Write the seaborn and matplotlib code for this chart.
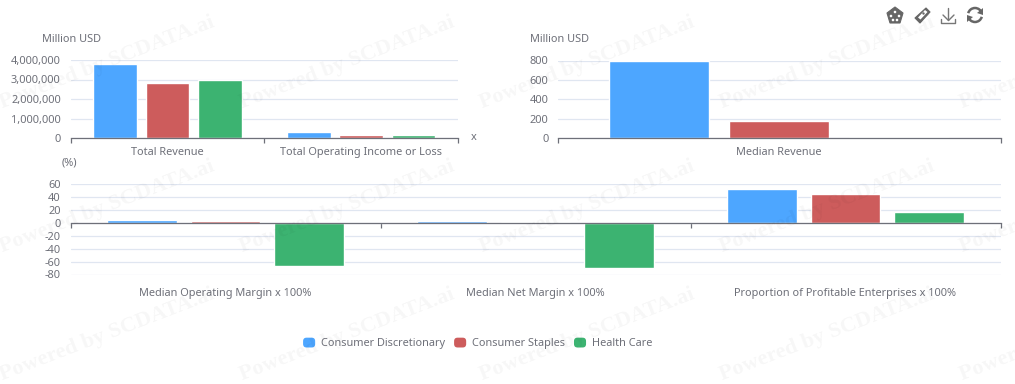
import matplotlib
matplotlib.use("Agg")
import matplotlib.pyplot as plt
from matplotlib.patches import FancyBboxPatch, Patch, Polygon, Circle
from matplotlib.lines import Line2D
from matplotlib.legend_handler import HandlerPatch
import pandas as pd
import seaborn as sns

sectors = ["Consumer Discretionary", "Consumer Staples", "Health Care"]
colors = ["#4DA6FF", "#CD5C5C", "#3CB371"]

total_metrics = ["Total Revenue", "Total Operating Income or Loss"]
total_revenue = [3770000, 2800000, 2970000]
total_op_income = [320000, 170000, 155000]

median_metrics = ["Median Revenue"]
median_revenue = [790, 180, 10]

pct_metrics = ["Median Operating Margin x 100%", "Median Net Margin x 100%",
               "Proportion of Profitable Enterprises x 100%"]
op_margin = [4.5, 2, -67]
net_margin = [2, 0.5, -70]
profitable = [53, 44, 17]

top_left_ticks = [0, 1000000, 2000000, 3000000, 4000000]
top_right_ticks = [0, 200, 400, 600, 800]
bottom_ticks = [-80, -60, -40, -20, 0, 20, 40, 60]

W, H = 1015, 384
TXT = "#6E7079"
GRID = "#E0E6F1"
AX = "#6E7079"

sns.set_theme(style="white")
plt.rcParams["font.family"] = ["Noto Sans", "DejaVu Sans"]
plt.rcParams["font.size"] = 7.8

fig = plt.figure(figsize=(W / 100, H / 100), dpi=100, facecolor="white")


def axes_px(x0, x1, ytop, ybot):
    return fig.add_axes([x0 / W, 1 - ybot / H, (x1 - x0) / W, (ybot - ytop) / H])


def frame(metrics, series):
    rows = []
    for m, vals in zip(metrics, series):
        for s, v in zip(sectors, vals):
            rows.append({"metric": m, "sector": s, "value": v})
    return pd.DataFrame(rows)


def draw(ax, metrics, series, ticks, fmt, pad):
    sns.barplot(data=frame(metrics, series), x="metric", y="value", hue="sector",
                order=metrics, hue_order=sectors, palette=colors, saturation=1,
                width=0.8125, gap=1 / 6, legend=False, ax=ax, zorder=3)
    n = len(metrics)
    ax.set_xlim(-0.5, n - 0.5)
    ax.set_ylim(min(ticks), max(ticks))
    ax.set_xlabel("")
    ax.set_ylabel("")
    ax.set_facecolor("none")
    for s in ("top", "left", "right"):
        ax.spines[s].set_visible(False)
    ax.spines["bottom"].set_position(("data", 0))
    ax.spines["bottom"].set_color(AX)
    ax.spines["bottom"].set_linewidth(0.9)
    ax.spines["bottom"].set_zorder(4)
    ax.set_yticks(ticks)
    ax.set_yticklabels([fmt(t) for t in ticks])
    ax.tick_params(axis="y", length=0, pad=7, labelsize=7.9, labelcolor=TXT)
    ax.set_xticks(range(n))
    ax.set_xticklabels(metrics)
    ax.tick_params(axis="x", which="major", length=0, pad=pad, labelsize=7.9, labelcolor=TXT)
    ax.set_xticks([i - 0.5 for i in range(n + 1)], minor=True)
    ax.tick_params(axis="x", which="minor", length=3.6, width=0.9, color=AX, bottom=True)
    ax.grid(axis="y", color=GRID, linewidth=0.9, zorder=0)
    ax.set_axisbelow(True)


ax1 = axes_px(70.5, 458, 60, 138)
draw(ax1, total_metrics, [total_revenue, total_op_income], top_left_ticks, lambda t: f"{t:,}", 6.5)
ax2 = axes_px(558, 1000.5, 60.5, 138)
draw(ax2, median_metrics, [median_revenue], top_right_ticks, lambda t: f"{t}", 6.5)
ax3 = axes_px(70.5, 1000.5, 184, 274.5)
draw(ax3, pct_metrics, [op_margin, net_margin, profitable], bottom_ticks, lambda t: f"{t}", 47)


def label(x, y, s, ha="left"):
    fig.text(x / W, 1 - y / H, s, ha=ha, va="center", color=TXT, fontsize=7.9)


label(42, 39, "Million USD")
label(530, 39, "Million USD")
label(62, 163, "(%)")
label(471, 138, "x")


class RoundHandler(HandlerPatch):
    def create_artists(self, legend, orig, xd, yd, w, h, fontsize, trans):
        p = FancyBboxPatch((xd + 1.5, -yd + 1.5), w - 3, h - 3,
                           boxstyle="round,pad=1.5,rounding_size=2.5",
                           fc=orig.get_facecolor(), ec="none", transform=trans)
        return [p]


handles = [Patch(facecolor=c, label=s) for c, s in zip(colors, sectors)]
fig.legend(handles=handles, loc="center", bbox_to_anchor=(477.5 / W, 1 - 343.5 / H), ncol=3,
           frameon=False, fontsize=7.9, labelcolor=TXT,
           handler_map={Patch: RoundHandler()},
           handlelength=1.1, handleheight=1.0, handletextpad=0.5, columnspacing=0.85)

# toolbox icons, drawn in pixel space on an overlay
ov = fig.add_axes([0, 0, 1, 1], facecolor="none", zorder=5)
ov.set_xlim(0, W)
ov.set_ylim(H, 0)
ov.axis("off")
ic = "#666666"
ov.add_patch(Polygon([(895, 7), (903, 13), (900, 23), (890, 23), (887, 13)], closed=True, fc=ic, ec=ic, lw=0.8))
for cx, cy in [(895, 12), (891, 16), (899, 16), (893, 20), (897, 20)]:
    ov.add_patch(Circle((cx, cy), 1.3, fc="white", ec="none"))
ov.add_patch(Polygon([(926, 8), (930, 12), (920, 23), (915, 18)], closed=True, fc=ic, ec=ic, lw=0.8, joinstyle="round"))
ov.add_patch(Polygon([(925, 10), (927.5, 12), (920.5, 19.5), (918, 17.5)], closed=True, fc="white", ec="none"))
ov.add_patch(Circle((923.5, 13.5), 1.2, fc=ic, ec="none"))
for xs, ys in [([948.5, 948.5], [8, 20]), ([943, 948.5, 954], [15, 20.5, 15]), ([941.5, 941.5, 955.5, 955.5], [19, 23, 23, 19])]:
    ov.add_line(Line2D(xs, ys, color="#777777", lw=1.0))
ov.add_patch(matplotlib.patches.Arc((975, 15), 14, 14, theta1=195, theta2=345, color=ic, lw=1.8))
ov.add_patch(matplotlib.patches.Arc((975, 15), 14, 14, theta1=15, theta2=165, color=ic, lw=1.8))
ov.add_patch(Polygon([(983, 8), (983, 15), (977, 13)], closed=True, fc=ic, ec="none"))
ov.add_patch(Polygon([(967, 22), (967, 15), (973, 17)], closed=True, fc=ic, ec="none"))

# watermark
for row_y in (108, 252, 380):
    for col_x in (2, 242, 482, 722, 962):
        fig.text(col_x / W, 1 - row_y / H, "Powered by SCDATA.ai", family="Liberation Serif",
                 fontweight="bold", fontsize=16, color="#000000", alpha=0.035, rotation=21,
                 rotation_mode="anchor", ha="left", va="baseline", clip_on=True, zorder=6)

fig.savefig("out.png", dpi=100)
